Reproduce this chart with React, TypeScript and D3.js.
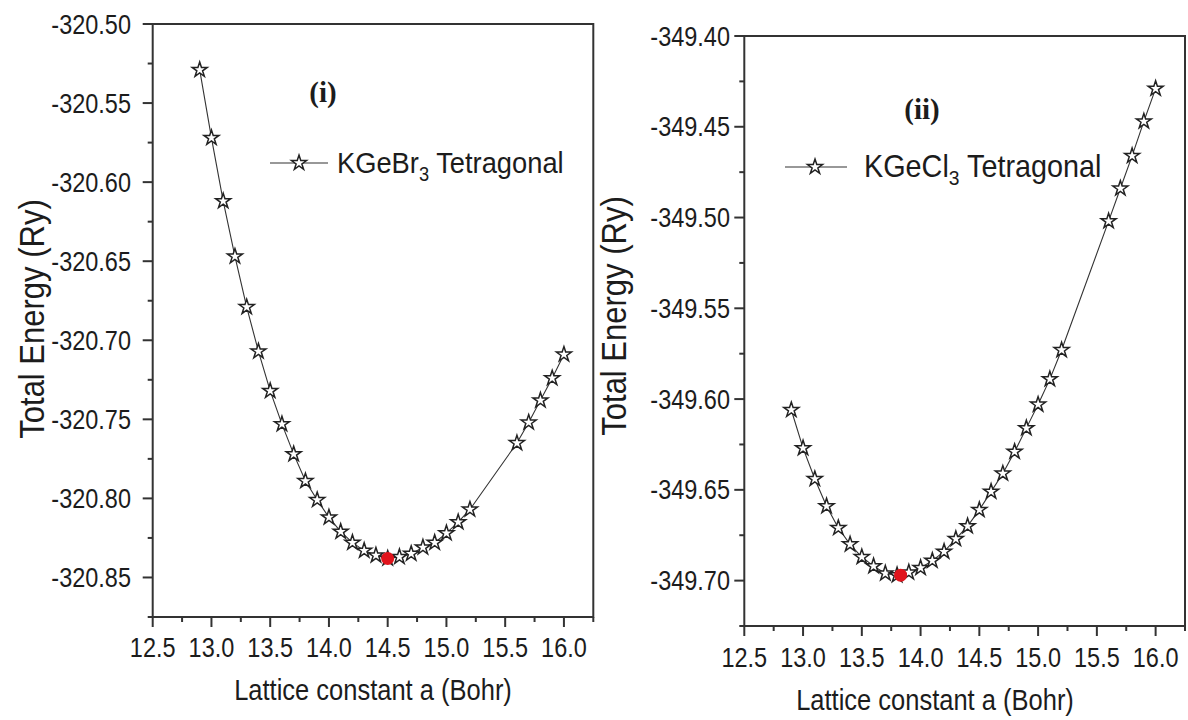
import React from "react";
import * as d3 from "d3";

// ---------- data ----------
const LATTICE_A = [
  12.9, 13.0, 13.1, 13.2, 13.3, 13.4, 13.5, 13.6, 13.7, 13.8, 13.9, 14.0, 14.1, 14.2,
  14.3, 14.4, 14.5, 14.6, 14.7, 14.8, 14.9, 15.0, 15.1, 15.2, 15.6, 15.7, 15.8, 15.9, 16.0,
];
const KGEBR3_ENERGY = [
  -320.529, -320.572, -320.612, -320.647, -320.679, -320.707, -320.732, -320.753, -320.772,
  -320.789, -320.801, -320.812, -320.821, -320.828, -320.833, -320.836, -320.838, -320.837,
  -320.835, -320.831, -320.828, -320.822, -320.815, -320.807, -320.765, -320.752, -320.738,
  -320.724, -320.709,
];
const KGECL3_ENERGY = [
  -349.606, -349.627, -349.644, -349.659, -349.671, -349.68, -349.687, -349.692, -349.696,
  -349.697, -349.6955, -349.693, -349.689, -349.684, -349.677, -349.67, -349.661, -349.651,
  -349.641, -349.629, -349.616, -349.603, -349.589, -349.573, -349.502, -349.484, -349.466,
  -349.447, -349.429,
];
const KGEBR3_MIN = { a: 14.5, e: -320.838 };
const KGECL3_MIN = { a: 13.83, e: -349.697 };

const X_TICKS = [12.5, 13.0, 13.5, 14.0, 14.5, 15.0, 15.5, 16.0];
const LEFT_Y_TICKS = [-320.5, -320.55, -320.6, -320.65, -320.7, -320.75, -320.8, -320.85];
const RIGHT_Y_TICKS = [-349.4, -349.45, -349.5, -349.55, -349.6, -349.65, -349.7];

const SANS = "'Liberation Sans', Arial, sans-serif";
const SERIF = "'Liberation Serif', 'Times New Roman', serif";
const AXIS = "#333";
const INK = "#1c1c1c";
const SY = 1.15;

const starPath = d3.symbol().type(d3.symbolStar).size(70)() as string;

function SText(props: {
  x: number;
  y: number;
  anchor?: "start" | "middle" | "end";
  size: number;
  family?: string;
  weight?: string;
  rotate?: boolean;
  sy?: number;
  children: React.ReactNode;
}) {
  const sy = props.sy ?? SY;
  const tf = props.rotate
    ? `translate(${props.x},${props.y}) rotate(-90) scale(1,${sy})`
    : `translate(${props.x},${props.y}) scale(1,${sy})`;
  return (
    <g transform={tf}>
      <text
        x={0}
        y={0}
        textAnchor={props.anchor ?? "start"}
        dominantBaseline={props.rotate ? "central" : undefined}
        fontFamily={props.family ?? SANS}
        fontWeight={props.weight}
        fontSize={props.size}
        fill={INK}
      >
        {props.children}
      </text>
    </g>
  );
}

type PanelProps = {
  xRange: [number, number];
  yRange: [number, number];
  yDomain: [number, number];
  yTicks: number[];
  energies: number[];
  min: { a: number; e: number };
  tag: string;
  tagPos: [number, number];
  legendY: number;
  legendX: [number, number, number, number];
  legendSize: number;
  formula: string;
  yLabelEnd: number;
  xLabelBaseline: number;
  xTitle: [number, number];
  yTitle: [number, number];
};

function Panel(p: PanelProps) {
  const x = d3.scaleLinear().domain([12.5, 16.25]).range(p.xRange);
  const y = d3.scaleLinear().domain(p.yDomain).range(p.yRange);
  const [x0, x1] = p.xRange;
  const [yb, yt] = p.yRange;
  const pts = LATTICE_A.map((a, i) => [x(a), y(p.energies[i])] as [number, number]);
  const line = d3.line()(pts) as string;
  const xMinor = X_TICKS.map((t) => t + 0.25);
  const yMinor = p.yTicks.map((t) => t - 0.025);
  const [lx0, lstar, lx1, ltext] = p.legendX;
  const prefix = p.formula.slice(0, -1);
  const sub = p.formula.slice(-1);
  return (
    <g>
      <rect x={x0} y={yt} width={x1 - x0} height={yb - yt} fill="none" stroke={AXIS} strokeWidth={2} />
      {X_TICKS.map((t) => (
        <g key={"xt" + t}>
          <line x1={x(t)} x2={x(t)} y1={yb} y2={yb + 10} stroke={AXIS} strokeWidth={2} />
          <SText x={x(t)} y={p.xLabelBaseline} anchor="middle" size={23.5}>
            {t.toFixed(1)}
          </SText>
        </g>
      ))}
      {xMinor.map((t) => (
        <line key={"xm" + t} x1={x(t)} x2={x(t)} y1={yb} y2={yb + 5} stroke={AXIS} strokeWidth={2} />
      ))}
      {p.yTicks.map((t) => (
        <g key={"yt" + t}>
          <line x1={x0 - 10} x2={x0} y1={y(t)} y2={y(t)} stroke={AXIS} strokeWidth={2} />
          <SText x={p.yLabelEnd} y={y(t) + 9.5} anchor="end" size={23.5}>
            {t.toFixed(2)}
          </SText>
        </g>
      ))}
      {yMinor.map((t) => (
        <line key={"ym" + t} x1={x0 - 5} x2={x0} y1={y(t)} y2={y(t)} stroke={AXIS} strokeWidth={2} />
      ))}
      <SText x={p.xTitle[0]} y={p.xTitle[1]} anchor="middle" size={25.5}>
        Lattice constant a (Bohr)
      </SText>
      <SText x={p.yTitle[0]} y={p.yTitle[1]} anchor="middle" size={31} rotate sy={1.12}>
        Total Energy (Ry)
      </SText>
      <path d={line} fill="none" stroke="#333" strokeWidth={1.1} />
      {pts.map(([px, py], i) => (
        <path
          key={"s" + i}
          d={starPath}
          transform={`translate(${px},${py})`}
          fill="#fff"
          stroke="#222"
          strokeWidth={1.5}
        />
      ))}
      <circle cx={x(p.min.a)} cy={y(p.min.e)} r={6.5} fill="#e0141c" />
      <SText x={p.tagPos[0]} y={p.tagPos[1]} anchor="middle" size={29} family={SERIF} weight="bold" sy={1.05}>
        {p.tag}
      </SText>
      <line x1={lx0} x2={lx1} y1={p.legendY} y2={p.legendY} stroke="#333" strokeWidth={1.2} />
      <path d={starPath} transform={`translate(${lstar},${p.legendY})`} fill="#fff" stroke="#222" strokeWidth={1.5} />
      <SText x={ltext} y={p.legendY + 10} size={p.legendSize} sy={1.08}>
        {prefix}
        <tspan dy={7} fontSize={p.legendSize * 0.67}>
          {sub}
        </tspan>
        <tspan dy={-7}> Tetragonal</tspan>
      </SText>
    </g>
  );
}

export default function App() {
  return (
    <svg
      width={1188}
      height={720}
      style={{ position: "absolute", left: 0, top: 0, background: "#fff" }}
    >
      <rect width={1188} height={720} fill="#fff" />
      <Panel
        xRange={[152.7, 593.3]}
        yRange={[617, 24]}
        yDomain={[-320.875, -320.5]}
        yTicks={LEFT_Y_TICKS}
        energies={KGEBR3_ENERGY}
        min={KGEBR3_MIN}
        tag="(i)"
        tagPos={[323, 102]}
        legendY={163}
        legendX={[270, 299, 328, 337]}
        legendSize={27.3}
        formula="KGeBr3"
        yLabelEnd={131}
        xLabelBaseline={657}
        xTitle={[373, 700]}
        yTitle={[32, 319]}
      />
      <Panel
        xRange={[744.3, 1185]}
        yRange={[626, 36]}
        yDomain={[-349.725, -349.4]}
        yTicks={RIGHT_Y_TICKS}
        energies={KGECL3_ENERGY}
        min={KGECL3_MIN}
        tag="(ii)"
        tagPos={[922, 119]}
        legendY={167}
        legendX={[785, 815, 847, 864]}
        legendSize={28.8}
        formula="KGeCl3"
        yLabelEnd={730}
        xLabelBaseline={667}
        xTitle={[935, 710]}
        yTitle={[614, 316]}
      />
    </svg>
  );
}
